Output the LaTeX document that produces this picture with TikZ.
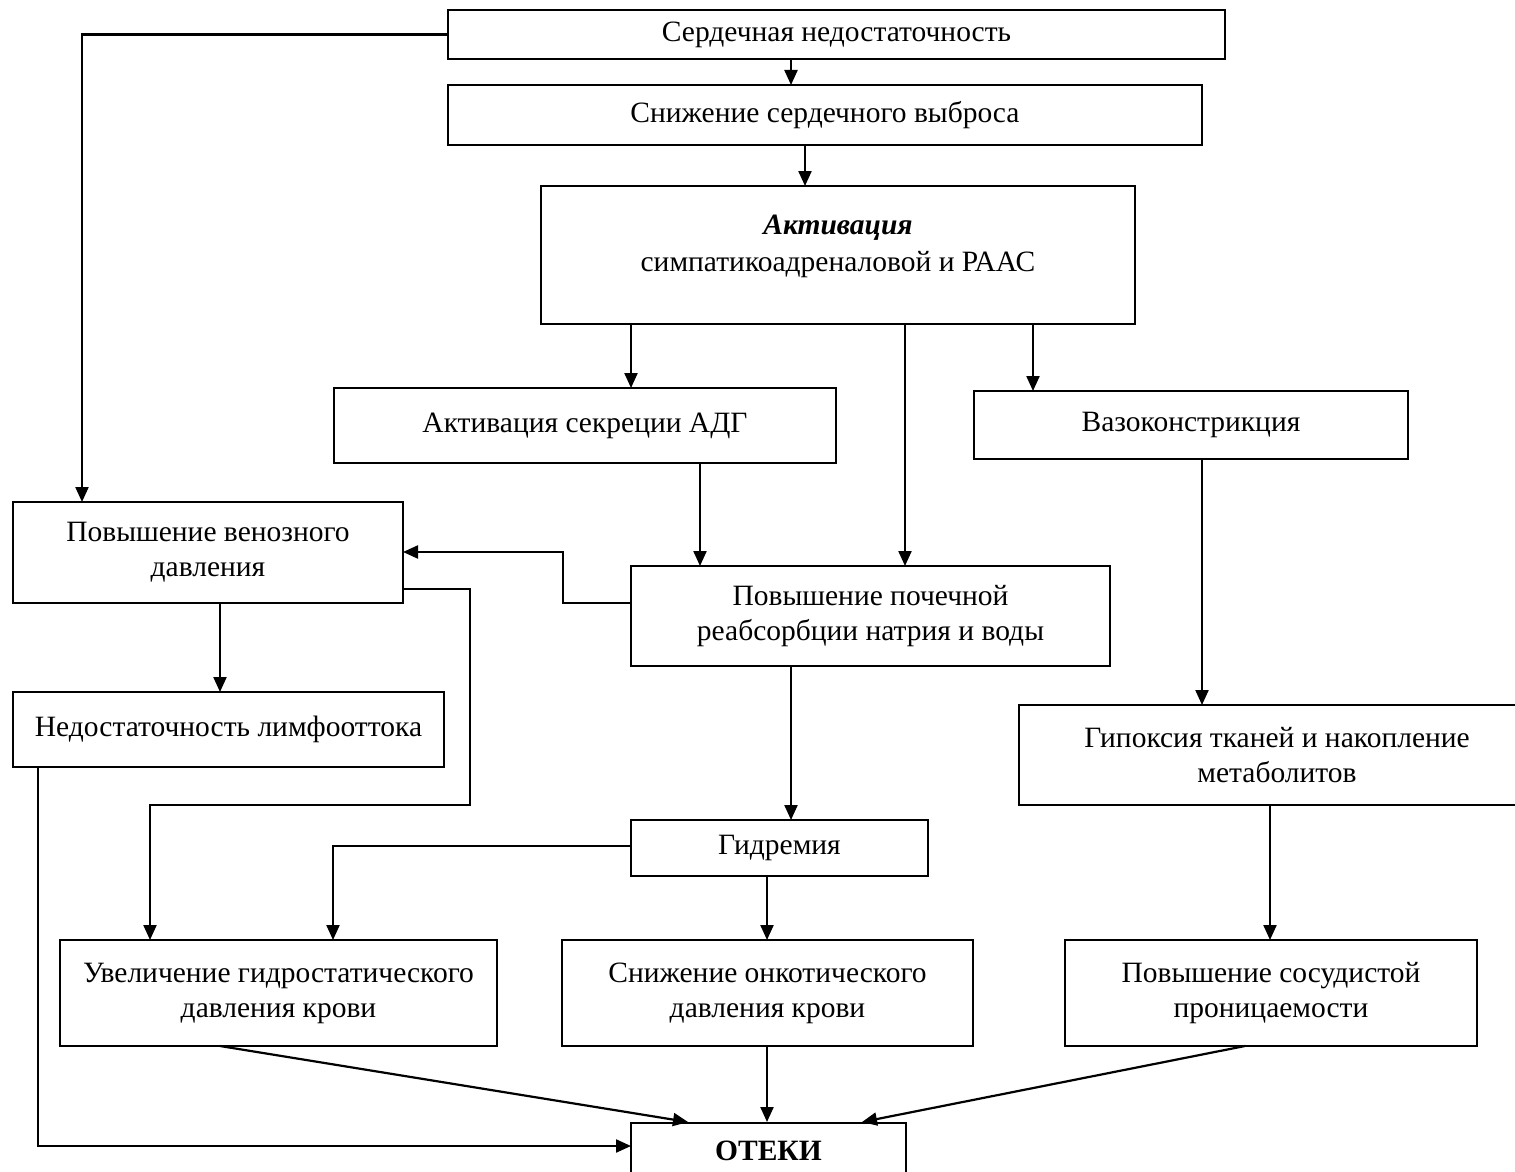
\documentclass[tikz,border=0pt]{standalone}
\usepackage{fontspec}
\setmainfont{Liberation Serif}
\usetikzlibrary{arrows.meta}
\begin{document}
\begin{tikzpicture}[x=1pt,y=-1pt,
  box/.style={draw, line width=2.2pt, inner sep=0pt, align=center, font=\fontsize{29.5}{35}\selectfont},
  txt/.style={inner sep=0pt, align=center, font=\fontsize{29.5}{37}\selectfont},
  arr/.style={line width=2.2pt, -{Triangle[length=15pt,width=13pt]}}]
\useasboundingbox (0,0) rectangle (1515,1172);
\fill[white] (0,0) rectangle (1515,1172);
% boxes
\node[box, minimum width=777, minimum height=49] (b1) at (836.5,34.5) {\raisebox{-2pt}{Сердечная недостаточность}};
\node[box, minimum width=754, minimum height=60] (b2) at (825,115) {\raisebox{-2pt}{Снижение сердечного выброса}};
\node[box, minimum width=594, minimum height=138] (b3) at (838,255) {};
\node[txt] (b3t) at (838,246) {\textbf{\textit{Активация}}\\симпатикоадреналовой и РААС};
\node[box, minimum width=502, minimum height=75] (b4) at (585,425.5) {\raisebox{-2pt}{Активация секреции АДГ}};
\node[box, minimum width=434, minimum height=68] (b5) at (1191,425) {\raisebox{-2pt}{Вазоконстрикция}};
\node[box, minimum width=390, minimum height=101] (b6) at (208,552.5) {Повышение венозного\\давления};
\node[box, minimum width=479, minimum height=100] (b7) at (870.5,616) {Повышение почечной\\реабсорбции натрия и воды};
\node[box, minimum width=431, minimum height=75] (b8) at (228.5,729.5) {\raisebox{-2pt}{Недостаточность лимфооттока}};
\node[box, minimum width=516, minimum height=100] (b9) at (1277,755) {Гипоксия тканей и накопление\\метаболитов};
\node[box, minimum width=297, minimum height=56] (b10) at (779.5,848) {\raisebox{-2pt}{Гидремия}};
\node[box, minimum width=437, minimum height=106] (b11) at (278.5,993) {Увеличение гидростатического\\давления крови};
\node[box, minimum width=411, minimum height=106] (b12) at (767.5,993) {Снижение онкотического\\давления крови};
\node[box, minimum width=412, minimum height=106] (b13) at (1271,993) {Повышение сосудистой\\проницаемости};
\node[box, minimum width=275, minimum height=56, font=\fontsize{29.5}{35}\selectfont\bfseries, anchor=north] (b14) at (768.5,1122) {\raisebox{-6pt}{ОТЕКИ}};
% connectors
\coordinate (c1) at (82,34.5);
\draw[arr] (b1.west) -- (c1) -- (82,502);
\draw[arr] (791,59) -- (791,85);
\draw[arr] (805,145) -- (805,186);
\draw[arr] (631,324) -- (631,388);
\draw[arr] (905,324) -- (905,566);
\draw[arr] (1033,324) -- (1033,391);
\draw[arr] (700,463) -- (700,566);
\draw[arr] (631,603) -- (563,603) -- (563,552) -- (403,552);
\draw[arr] (403,589) -- (470,589) -- (470,805) -- (150,805) -- (150,940);
\draw[arr] (220,603) -- (220,692);
\draw[arr] (38,767) -- (38,1146) -- (631,1146);
\draw[arr] (791,666) -- (791,820);
\draw[arr] (631,846) -- (333,846) -- (333,940);
\draw[arr] (767,876) -- (767,940);
\draw[arr] (1202,459) -- (1202,705);
\draw[arr] (1270,805) -- (1270,940);
\draw[arr] (220,1046) -- (688,1122);
\draw[arr] (767,1046) -- (767,1122);
\draw[arr] (1245,1046) -- (862,1122);
\end{tikzpicture}
\end{document}
